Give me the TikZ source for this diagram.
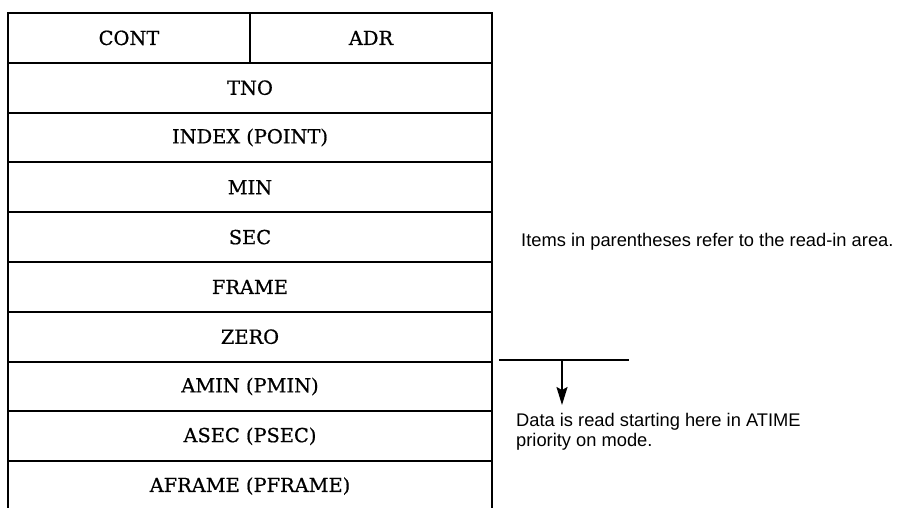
\documentclass[tikz,border=0pt]{standalone}
\usepackage{fontspec}
\setmainfont{DejaVu Serif}[FakeBold=0.7]
\newfontfamily\notefont{Liberation Sans}
\usetikzlibrary{positioning,arrows.meta}
\begin{document}
\begin{tikzpicture}[x=1pt, y=-1pt,
  field/.style = {draw, line width=2pt, minimum width=484pt, minimum height=49.8pt,
                  inner sep=0pt, outer sep=0pt, font=\fontsize{19.4}{23}\selectfont},
  half/.style = {field, minimum width=242pt},
  note/.style = {font=\notefont\fontsize{18.3}{20}\selectfont, inner sep=0pt, align=left}]
\useasboundingbox (0,0) rectangle (899,507);

\node[half, anchor=north west] (cont) at (8,13) {CONT};
\node[half] (adr) [right=0pt of cont] {ADR};
\node[field, anchor=north west] (tno) at (cont.south west) {TNO};
\node[field] (index) [below=0pt of tno] {INDEX (POINT)};
\node[field] (min) [below=0pt of index] {MIN};
\node[field] (sec) [below=0pt of min] {SEC};
\node[field] (frame) [below=0pt of sec] {FRAME};
\node[field] (zero) [below=0pt of frame] {ZERO};
\node[field] (amin) [below=0pt of zero] {AMIN (PMIN)};
\node[field] (asec) [below=0pt of amin] {ASEC (PSEC)};
\node[field, draw=none] (aframe) [below=0pt of asec] {AFRAME (PFRAME)};
\draw[line width=2pt] (aframe.south west) -- (aframe.north west)
  (aframe.north east) -- (aframe.south east);

\node[note, anchor=base west] (items) at (521,246) {Items in parentheses refer to the read-in area.};

\coordinate (lineL) at (499,360);
\coordinate (lineR) at (629,360);
\coordinate (start) at (562,360);
\coordinate (tip) at (562,405);
\draw[line width=1.8pt] (lineL) -- (lineR);
\draw[line width=1.8pt, -{Stealth[length=18pt, width=11pt, inset=3pt]}] (start) -- (tip);
\node[note, anchor=north west] (data) at (516,413) {Data is read starting here in ATIME\\priority on mode.};
\end{tikzpicture}
\end{document}
